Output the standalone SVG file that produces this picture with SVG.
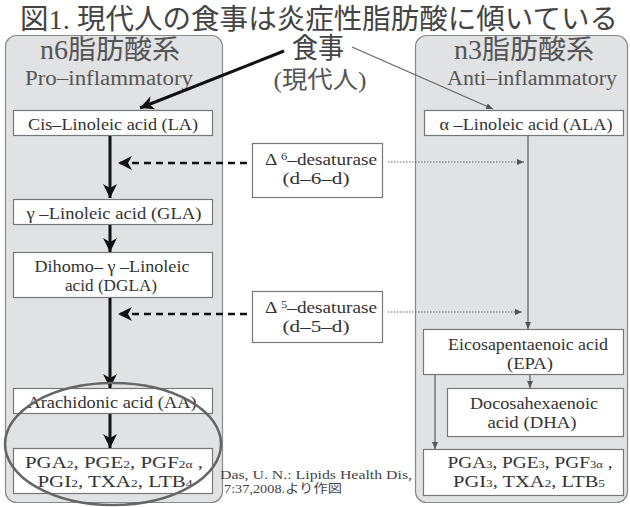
<svg xmlns="http://www.w3.org/2000/svg" width="630" height="507" viewBox="0 0 630 507">
<style>
text{font-family:'Liberation Serif',serif}
.t{fill:#333}
.jp{font-family:'Liberation Serif','Noto Sans CJK JP',serif;fill:#444}
.hd{fill:#555}
.box{fill:#fff;stroke:#777;stroke-width:1.2}
.panel{fill:#e1e2e4;stroke:#8a8a8a;stroke-width:1.2}
.bt{font-size:17px;text-anchor:middle}
.sub{font-size:11px}
.thick{stroke:#111;stroke-width:3;fill:none}
.dash{stroke:#111;stroke-width:2.6;stroke-dasharray:7,5;fill:none}
.dot{stroke:#666;stroke-width:1;stroke-dasharray:1.5,1.5;fill:none}
.thin{stroke:#666;stroke-width:1.3;fill:none}
</style>
<defs>
<marker id="big" markerUnits="userSpaceOnUse" markerWidth="16" markerHeight="14" refX="14" refY="7" orient="auto">
<path d="M0,0 L14,7 L0,14 L4,7 z" fill="#111"/>
</marker>
<marker id="sm" markerUnits="userSpaceOnUse" markerWidth="8" markerHeight="6" refX="7" refY="3" orient="auto">
<path d="M0,0 L7,3 L0,6 z" fill="#555"/>
</marker>
</defs>

<text class="jp" x="20" y="29" font-size="28" textLength="598" lengthAdjust="spacingAndGlyphs">図1. 現代人の食事は炎症性脂肪酸に傾いている</text>

<g id="panel-n6">
<rect class="panel" x="5.5" y="35.5" width="217" height="467" rx="11"/>
<text class="jp hd" x="110" y="59" font-size="27" text-anchor="middle" textLength="140" lengthAdjust="spacingAndGlyphs">n6脂肪酸系</text>
<text class="t hd" x="109" y="85" font-size="20" text-anchor="middle" textLength="168" lengthAdjust="spacingAndGlyphs">Pro–inflammatory</text>
</g>
<g id="panel-n3">
<rect class="panel" x="415.5" y="35.5" width="212" height="467" rx="11"/>
<text class="jp hd" x="524" y="59" font-size="27" text-anchor="middle" textLength="140" lengthAdjust="spacingAndGlyphs">n3脂肪酸系</text>
<text class="t hd" x="532" y="85" font-size="20" text-anchor="middle" textLength="170" lengthAdjust="spacingAndGlyphs">Anti–inflammatory</text>
</g>

<g id="diet">
<text class="jp" x="318" y="58" font-size="28" text-anchor="middle" textLength="52" lengthAdjust="spacingAndGlyphs">食事</text>
<text class="jp hd" x="320" y="88" font-size="24" text-anchor="middle" textLength="93" lengthAdjust="spacingAndGlyphs">(現代人)</text>
</g>

<g id="LA">
<rect class="box" x="13.5" y="110.5" width="199" height="25"/>
<text class="t bt" x="113" y="130" textLength="170" lengthAdjust="spacingAndGlyphs">Cis–Linoleic acid (LA)</text>
</g>
<g id="GLA">
<rect class="box" x="13.5" y="199.5" width="199" height="25"/>
<text class="t bt" x="114" y="219" textLength="175" lengthAdjust="spacingAndGlyphs">γ –Linoleic acid (GLA)</text>
</g>
<g id="DGLA">
<rect class="box" x="13.5" y="252.5" width="199" height="45"/>
<text class="t bt" x="112" y="272" textLength="155" lengthAdjust="spacingAndGlyphs">Dihomo– γ –Linoleic</text>
<text class="t bt" x="111" y="291" textLength="92" lengthAdjust="spacingAndGlyphs">acid (DGLA)</text>
</g>
<g id="AA">
<rect class="box" x="13.5" y="388.5" width="199" height="25"/>
<text class="t bt" x="112" y="408" textLength="169" lengthAdjust="spacingAndGlyphs">Arachidonic acid (AA)</text>
</g>
<g id="PG2">
<rect class="box" x="13.5" y="448.5" width="199" height="45"/>
<text class="t bt" x="114" y="468" textLength="178" lengthAdjust="spacingAndGlyphs">PGA<tspan class="sub">2</tspan>, PGE<tspan class="sub">2</tspan>, PGF<tspan class="sub">2α</tspan> ,</text>
<text class="t bt" x="115" y="487" textLength="155" lengthAdjust="spacingAndGlyphs">PGI<tspan class="sub">2</tspan>, TXA<tspan class="sub">2</tspan>, LTB<tspan class="sub">4</tspan></text>
</g>

<g id="D6">
<rect class="box" x="252.5" y="143.5" width="130" height="54"/>
<text class="t bt" x="321" y="165" textLength="112" lengthAdjust="spacingAndGlyphs">Δ <tspan class="sub" dy="-5">6</tspan><tspan dy="5">–desaturase</tspan></text>
<text class="t bt" x="316" y="184" textLength="67" lengthAdjust="spacingAndGlyphs">(d–6–d)</text>
</g>
<g id="D5">
<rect class="box" x="252.5" y="291.5" width="130" height="51"/>
<text class="t bt" x="321" y="313" textLength="112" lengthAdjust="spacingAndGlyphs">Δ <tspan class="sub" dy="-5">5</tspan><tspan dy="5">–desaturase</tspan></text>
<text class="t bt" x="316" y="332" textLength="67" lengthAdjust="spacingAndGlyphs">(d–5–d)</text>
</g>

<g id="ALA">
<rect class="box" x="424.5" y="110.5" width="199" height="25"/>
<text class="t bt" x="526" y="130" textLength="173" lengthAdjust="spacingAndGlyphs">α –Linoleic acid (ALA)</text>
</g>
<g id="EPA">
<rect class="box" x="423.5" y="329.5" width="200" height="45"/>
<text class="t bt" x="528" y="350" textLength="160" lengthAdjust="spacingAndGlyphs">Eicosapentaenoic acid</text>
<text class="t bt" x="530" y="369" textLength="46" lengthAdjust="spacingAndGlyphs">(EPA)</text>
</g>
<g id="DHA">
<rect class="box" x="447.5" y="388.5" width="176" height="48"/>
<text class="t bt" x="534" y="409" textLength="128" lengthAdjust="spacingAndGlyphs">Docosahexaenoic</text>
<text class="t bt" x="532" y="428" textLength="89" lengthAdjust="spacingAndGlyphs">acid (DHA)</text>
</g>
<g id="PG3">
<rect class="box" x="423.5" y="449.5" width="200" height="46"/>
<text class="t bt" x="530" y="468" textLength="165" lengthAdjust="spacingAndGlyphs">PGA<tspan class="sub">3</tspan>, PGE<tspan class="sub">3</tspan>, PGF<tspan class="sub">3α</tspan> ,</text>
<text class="t bt" x="529" y="487" textLength="152" lengthAdjust="spacingAndGlyphs">PGI<tspan class="sub">3</tspan>, TXA<tspan class="sub">2</tspan>, LTB<tspan class="sub">5</tspan></text>
</g>

<g id="citation">
<text class="jp" x="220" y="479" font-size="12" textLength="192" lengthAdjust="spacingAndGlyphs">Das, U. N.:  Lipids Health Dis,</text>
<text class="jp" x="224" y="493" font-size="12" textLength="118" lengthAdjust="spacingAndGlyphs">7:37,2008.より作図</text>
</g>

<g id="connectors">
<line class="thick" x1="284" y1="51" x2="140" y2="108" stroke-width="3.5" marker-end="url(#big)"/>
<line class="thin" x1="352" y1="47" x2="493" y2="109" stroke-width="1" marker-end="url(#sm)"/>
<line class="thick" x1="110" y1="136" x2="110" y2="198" marker-end="url(#big)"/>
<line class="thick" x1="110" y1="225" x2="110" y2="252" marker-end="url(#big)"/>
<line class="thick" x1="110" y1="298" x2="110" y2="388" marker-end="url(#big)"/>
<line class="thick" x1="110" y1="414" x2="110" y2="448" marker-end="url(#big)"/>
<line class="dash" x1="247" y1="163" x2="118" y2="163" marker-end="url(#big)"/>
<line class="dash" x1="247" y1="314" x2="118" y2="314" marker-end="url(#big)"/>
<line class="dot" x1="388" y1="162" x2="524" y2="162" marker-end="url(#sm)"/>
<line class="dot" x1="388" y1="312" x2="522" y2="312" marker-end="url(#sm)"/>
<line class="thin" x1="528" y1="136" x2="528" y2="329" marker-end="url(#sm)"/>
<line class="thin" x1="530" y1="375" x2="530" y2="388" stroke-width="1" marker-end="url(#sm)"/>
<line class="thin" x1="435" y1="375" x2="435" y2="449" stroke-width="1" marker-end="url(#sm)"/>
</g>

<ellipse id="highlight" cx="113" cy="444" rx="108" ry="61" fill="none" stroke="#666" stroke-width="2.5"/>
</svg>
